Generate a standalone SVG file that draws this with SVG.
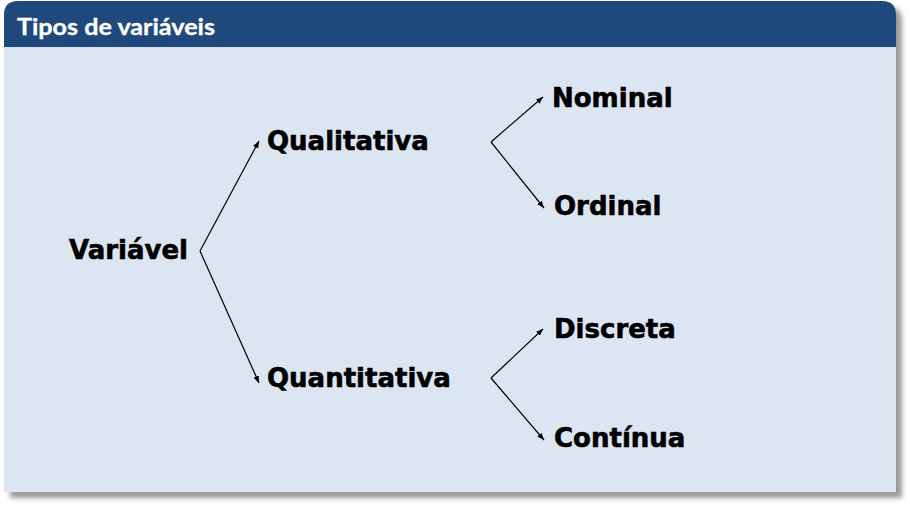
<svg xmlns="http://www.w3.org/2000/svg" width="910" height="511" viewBox="0 0 910 511">
<defs>
<filter id="sh" x="-5%" y="-5%" width="110%" height="110%"><feGaussianBlur stdDeviation="2.5"/></filter>
<marker id="ah" viewBox="0 0 10 10" refX="10" refY="5" markerWidth="7" markerHeight="7" orient="auto" markerUnits="userSpaceOnUse"><path d="M0,1 L10,5 L0,9 Z" fill="#000"/></marker>
</defs>
<style>
.lbl{font-family:"DejaVu Sans",sans-serif;font-weight:bold;font-size:26px;fill:#000;stroke:#000;stroke-width:0.6}
.c{fill:none;stroke:#000;stroke-width:1.2;marker-end:url(#ah)}
</style>
<g id="panel">
<path d="M10,16 Q10,7 24,7 H888 Q902,7 902,21 V498 H10 Z" fill="#9a9a9a" filter="url(#sh)"/>
<path d="M4,47 V15 Q4,1 18,1 H882 Q896,1 896,15 V492 H4 Z" fill="#DCE6F2"/>
<path d="M4,47 V15 Q4,1 18,1 H882 Q896,1 896,15 V47 Z" fill="#1F497D"/>
<text x="17" y="35" font-family="Lato, 'Open Sans', sans-serif" font-weight="bold" font-size="22" fill="#fff" stroke="#fff" stroke-width="0.3" textLength="198" lengthAdjust="spacingAndGlyphs">Tipos de variáveis</text>
</g>
<g id="connectors">
<path class="c" d="M200,251 L259,141"/>
<path class="c" d="M200,251 L259,383"/>
<path class="c" d="M491,142 L543,97"/>
<path class="c" d="M491,142 L544,208"/>
<path class="c" d="M491,378 L543,329"/>
<path class="c" d="M491,378 L544,440"/>
</g>
<g id="n-variavel"><text class="lbl" x="69" y="259">Variável</text></g>
<g id="n-qualitativa"><text class="lbl" x="267" y="150">Qualitativa</text></g>
<g id="n-quantitativa"><text class="lbl" x="267" y="387">Quantitativa</text></g>
<g id="n-nominal"><text class="lbl" x="552" y="107">Nominal</text></g>
<g id="n-ordinal"><text class="lbl" x="554" y="215">Ordinal</text></g>
<g id="n-discreta"><text class="lbl" x="554" y="338">Discreta</text></g>
<g id="n-continua"><text class="lbl" x="554" y="447">Contínua</text></g>
</svg>
